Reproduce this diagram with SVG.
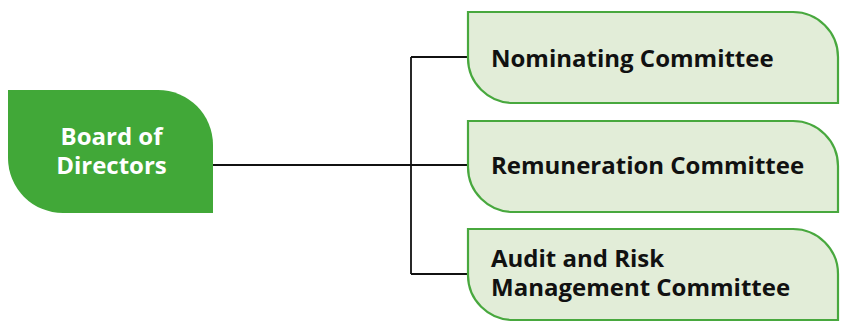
<svg xmlns="http://www.w3.org/2000/svg" width="842" height="322" viewBox="0 0 842 322">
  <style>
    .board { fill: #41a838; }
    .committee { fill: #e2edd8; stroke: #48a83e; stroke-width: 2.2; }
    .label { font-family: "Open Sans", "Noto Sans", sans-serif; font-weight: bold; font-size: 24px; }
    .board-label { fill: #ffffff; }
    .committee-label { fill: #111111; }
    .connector { fill: none; stroke: #111111; stroke-width: 1.8; }
  </style>

  <!-- connectors -->
  <g id="connectors">
    <path class="connector" d="M213 165 H411"/>
    <path class="connector" d="M411 57 V274"/>
    <path class="connector" d="M411 57 H468"/>
    <path class="connector" d="M411 165 H468"/>
    <path class="connector" d="M411 274 H468"/>
  </g>

  <!-- root node -->
  <g id="board-of-directors">
    <path class="board" d="M8 90 H158 A55 55 0 0 1 213 145 V213 H63 A55 55 0 0 1 8 158 Z"/>
    <text class="label board-label" x="111.5" y="145" text-anchor="middle">Board of</text>
    <text class="label board-label" x="111.5" y="173.5" text-anchor="middle">Directors</text>
  </g>

  <!-- committees -->
  <g id="nominating-committee">
    <path class="committee" d="M468 12 H793 A45 45 0 0 1 838 57 V103 H513 A45 45 0 0 1 468 58 Z"/>
    <text class="label committee-label" x="491" y="66.5">Nominating Committee</text>
  </g>

  <g id="remuneration-committee">
    <path class="committee" d="M468 121 H793 A45 45 0 0 1 838 166 V212 H513 A45 45 0 0 1 468 167 Z"/>
    <text class="label committee-label" x="491" y="173.5">Remuneration Committee</text>
  </g>

  <g id="audit-risk-committee">
    <path class="committee" d="M468 229 H793 A45 45 0 0 1 838 274 V320 H513 A45 45 0 0 1 468 275 Z"/>
    <text class="label committee-label" x="491" y="267">Audit and Risk</text>
    <text class="label committee-label" x="491" y="295.5">Management Committee</text>
  </g>
</svg>
